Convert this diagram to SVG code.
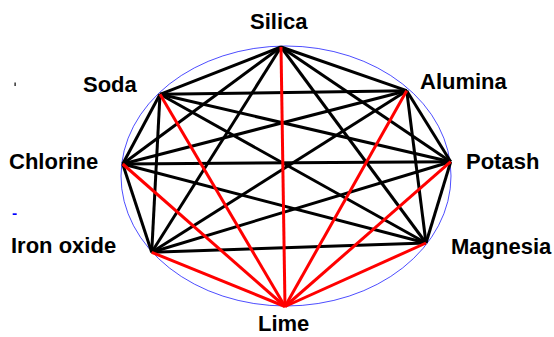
<svg xmlns="http://www.w3.org/2000/svg" width="554" height="337" viewBox="0 0 554 337">
<style>
text{font-family:"Liberation Sans",Arial,sans-serif;font-weight:bold;font-size:22px;fill:#000}
.k{stroke:#000;stroke-width:3;fill:none}
.r{stroke:#ff0000;stroke-width:3;fill:none}
</style>
<rect width="554" height="337" fill="#fff"/>
<ellipse cx="286" cy="176" rx="165" ry="130" fill="none" stroke="#0000ff" stroke-width="0.7"/>
<rect x="14.5" y="82.5" width="1.2" height="3.5" fill="#000"/>
<rect x="12.7" y="213.3" width="4" height="1.7" fill="#0000ff"/>
<g id="connectors">
<g class="k">
<line x1="281" y1="47" x2="406.7" y2="90.7"/>
<line x1="281" y1="47" x2="450.7" y2="161.7"/>
<line x1="281" y1="47" x2="426" y2="243"/>
<line x1="281" y1="47" x2="151.7" y2="252.3"/>
<line x1="281" y1="47" x2="122.7" y2="164"/>
<line x1="281" y1="47" x2="160" y2="94.3"/>
<line x1="406.7" y1="90.7" x2="450.7" y2="161.7"/>
<line x1="406.7" y1="90.7" x2="426" y2="243"/>
<line x1="406.7" y1="90.7" x2="151.7" y2="252.3"/>
<line x1="406.7" y1="90.7" x2="122.7" y2="164"/>
<line x1="406.7" y1="90.7" x2="160" y2="94.3"/>
<line x1="450.7" y1="161.7" x2="426" y2="243"/>
<line x1="450.7" y1="161.7" x2="151.7" y2="252.3"/>
<line x1="450.7" y1="161.7" x2="122.7" y2="164"/>
<line x1="450.7" y1="161.7" x2="160" y2="94.3"/>
<line x1="426" y1="243" x2="151.7" y2="252.3"/>
<line x1="426" y1="243" x2="122.7" y2="164"/>
<line x1="426" y1="243" x2="160" y2="94.3"/>
<line x1="151.7" y1="252.3" x2="122.7" y2="164"/>
<line x1="151.7" y1="252.3" x2="160" y2="94.3"/>
<line x1="122.7" y1="164" x2="160" y2="94.3"/>
</g>
<g class="r">
<line x1="285" y1="306.5" x2="281" y2="47"/>
<line x1="285" y1="306.5" x2="406.7" y2="90.7"/>
<line x1="285" y1="306.5" x2="450.7" y2="161.7"/>
<line x1="285" y1="306.5" x2="426" y2="243"/>
<line x1="285" y1="306.5" x2="151.7" y2="252.3"/>
<line x1="285" y1="306.5" x2="122.7" y2="164"/>
<line x1="285" y1="306.5" x2="160" y2="94.3"/>
</g>
</g>
<g id="silica"><text x="250" y="29">Silica</text></g>
<g id="alumina"><text x="420" y="89">Alumina</text></g>
<g id="potash"><text x="466" y="169">Potash</text></g>
<g id="magnesia"><text x="451" y="254">Magnesia</text></g>
<g id="lime"><text x="258" y="331">Lime</text></g>
<g id="iron-oxide"><text x="11" y="253">Iron oxide</text></g>
<g id="chlorine"><text x="9" y="169">Chlorine</text></g>
<g id="soda"><text x="83" y="92">Soda</text></g>
</svg>
